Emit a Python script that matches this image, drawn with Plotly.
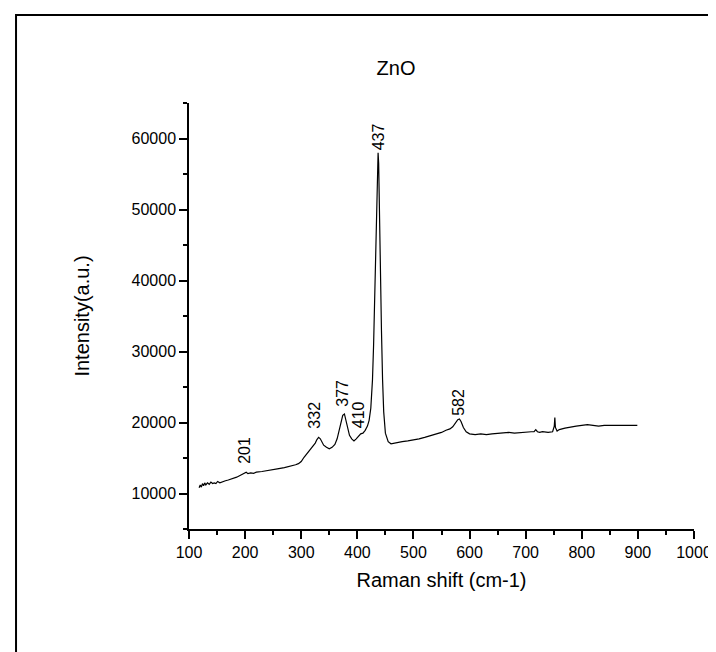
import plotly.graph_objects as go

# Raman spectrum of ZnO
raman_shift = [118, 120, 122, 124, 126, 128, 130, 133, 136, 139, 142, 145, 148, 151, 155,
               160, 165, 170, 175, 180, 185, 190, 195, 199, 202, 205, 210, 215, 220, 230,
               240, 250, 260, 270, 280, 290, 295, 300, 305, 310, 315, 320, 325, 328, 331,
               334, 337, 340, 345, 350, 355, 360, 364, 368, 371, 374, 377, 380, 383, 386,
               390, 394, 398, 402, 406, 410, 414, 418, 421, 424, 427, 429, 431, 433, 435,
               436, 437, 438, 439, 441, 443, 445, 447, 450, 455, 460, 465, 470, 480, 490,
               500, 510, 520, 530, 540, 550, 558, 565, 570, 575, 579, 582, 585, 589, 594,
               600, 610, 620, 630, 640, 650, 660, 670, 680, 690, 700, 710, 715, 718, 721,
               725, 730, 740, 748, 751, 752, 753, 756, 760, 770, 780, 790, 800, 810, 820,
               830, 840, 850, 860, 870, 880, 890, 899]
intensity = [10800, 11200, 10900, 11400, 11100, 11500, 11200, 11500, 11300, 11600, 11400, 11500, 11400, 11700, 11500,
             11700, 11800, 11900, 12000, 12200, 12300, 12500, 12700, 12900, 13000, 12800, 12900, 12850, 13000, 13100,
             13200, 13350, 13500, 13650, 13800, 14050, 14200, 14500, 15100, 15600, 16000, 16500, 17100, 17600, 17900,
             17700, 17200, 16800, 16500, 16300, 16500, 16900, 17700, 19000, 20300, 21000, 21200, 20200, 18900, 18200,
             17700, 17400, 17700, 18100, 18400, 18500, 18900, 19500, 20300, 22000, 26000, 31000, 38000, 46000, 54000,
             57000, 58000, 56500, 51000, 42000, 33000, 26000, 21500, 18500, 17300, 17000, 17100, 17100, 17300, 17400,
             17500, 17700, 17900, 18100, 18400, 18600, 18900, 19100, 19400, 19900, 20400, 20500, 20100, 19300, 18700,
             18400, 18300, 18400, 18300, 18400, 18500, 18500, 18600, 18500, 18600, 18600, 18700, 18700, 19000, 18700,
             18600, 18700, 18600, 18700, 19500, 20700, 19300, 18800, 19000, 19200, 19400, 19500, 19600, 19700, 19600,
             19500, 19600, 19600, 19500, 19600, 19500, 19600, 19600]

# peak labels
peak_labels = ["201", "332", "377", "410", "437", "582"]
peak_x = [199, 323, 373, 402, 437, 579]
peak_y = [13900, 18800, 21900, 18900, 58000, 20700]

FONT = "Arial, Liberation Sans, sans-serif"

fig = go.Figure()
fig.add_trace(go.Scatter(x=raman_shift, y=intensity, mode="lines",
                         line=dict(color="black", width=1.2), showlegend=False))

for lab, px_, py_ in zip(peak_labels, peak_x, peak_y):
    fig.add_annotation(x=px_, y=py_, text=lab, showarrow=False, textangle=-90,
                       xanchor="center", yanchor="bottom",
                       font=dict(family=FONT, size=16, color="black"))

axis_style = dict(showline=True, linecolor="black", linewidth=1.5, mirror=False,
                  ticks="outside", ticklen=8, tickwidth=1.5, tickcolor="black",
                  showgrid=False, zeroline=False, tickformat="d",
                  tickfont=dict(family=FONT, size=16, color="black"))

fig.update_xaxes(range=[100, 1000], dtick=100, tick0=0,
                 minor=dict(ticks="outside", ticklen=4, tickwidth=1.5, tickcolor="black", dtick=50),
                 title=dict(text="Raman shift (cm-1)", standoff=13,
                            font=dict(family=FONT, size=20, color="black")),
                 **axis_style)
fig.update_yaxes(range=[5000, 65000], dtick=10000, tick0=0,
                 minor=dict(ticks="outside", ticklen=4, tickwidth=1.5, tickcolor="black", dtick=5000),
                 title=dict(text="Intensity(a.u.)", standoff=37,
                            font=dict(family=FONT, size=20, color="black")),
                 **axis_style)

# outer frame (left and top edges show inside the picture)
fig.add_shape(type="rect", xref="paper", yref="paper",
              x0=(7 - 181) / 508, x1=(730 - 181) / 508,
              y0=-(670 - 521) / 426, y1=1 + (95 - 7) / 426,
              line=dict(color="black", width=2))

fig.update_layout(
    width=716, height=652,
    margin=dict(l=181, r=27, t=95, b=131),
    paper_bgcolor="white", plot_bgcolor="white",
    title=dict(text="ZnO", x=0.41, xref="paper", y=1 - 60 / 652, yref="container",
               xanchor="center", yanchor="middle",
               font=dict(family=FONT, size=20, color="black")),
)

fig.write_html("out.html")
